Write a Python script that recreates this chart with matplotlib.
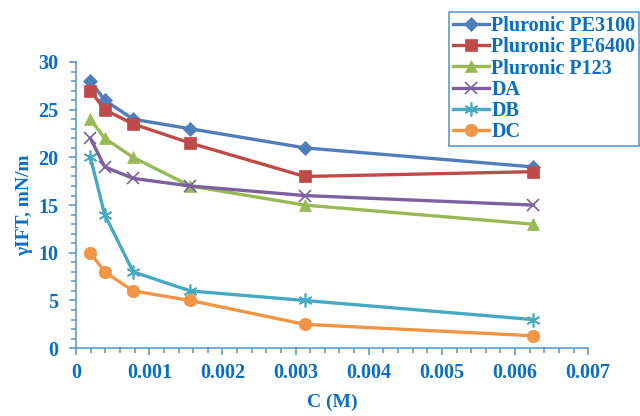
import matplotlib
matplotlib.use("Agg")
import matplotlib.pyplot as plt
from matplotlib.ticker import MultipleLocator

conc = [0.000195, 0.00039, 0.00078, 0.00156, 0.003125, 0.00625]
pe3100 = [28, 26, 24, 23, 21, 19]
pe6400 = [27, 25, 23.5, 21.5, 18, 18.5]
p123 = [24, 22, 20, 17, 15, 13]
da = [22, 19, 17.8, 17, 16, 15]
db = [20, 14, 8, 6, 5, 3]
dc = [10, 8, 6, 5, 2.5, 1.3]

labels = ["Pluronic PE3100", "Pluronic PE6400", "Pluronic P123", "DA", "DB", "DC"]
series = [pe3100, pe6400, p123, da, db, dc]
colors = ["#4F7EBB", "#BE4B48", "#98B954", "#7D60A0", "#46AAC5", "#F29544"]
markers = ["D", "s", "^", "x", (6, 2, 0), "o"]
msizes = [7, 9, 9, 9, 10, 9]

text_color = "#0A6EC2"
axis_color = "#5B9BD5"
plt.rcParams["font.family"] = ["Liberation Serif", "DejaVu Serif"]

fig = plt.figure(figsize=(6.4, 4.16), dpi=100)
ax = fig.add_axes([0.119, 0.163, 0.80, 0.688])

for y, lab, c, m, ms in zip(series, labels, colors, markers, msizes):
    ax.plot(conc, y, color=c, lw=2.4, marker=m, markersize=ms,
            markeredgewidth=1.2 if m in ("x", (6, 2, 0)) else 0.5,
            markeredgecolor=c, markerfacecolor=c, label=lab)

ax.set_xlim(0, 0.007)
ax.set_ylim(0, 30)
ax.xaxis.set_major_locator(MultipleLocator(0.001))
ax.xaxis.set_minor_locator(MultipleLocator(0.0002))
ax.yaxis.set_major_locator(MultipleLocator(5))
ax.yaxis.set_minor_locator(MultipleLocator(1))
ax.set_xticks([0, 0.001, 0.002, 0.003, 0.004, 0.005, 0.006, 0.007])
ax.set_xticklabels(["0", "0.001", "0.002", "0.003", "0.004", "0.005", "0.006", "0.007"])

for s in ("top", "right"):
    ax.spines[s].set_visible(False)
for s in ("left", "bottom"):
    ax.spines[s].set_color(axis_color)
    ax.spines[s].set_linewidth(1.2)
ax.tick_params(which="both", direction="out", color=axis_color, width=1.2,
               labelcolor=text_color, labelsize=14.5)
ax.tick_params(which="major", length=5)
ax.tick_params(which="minor", length=3.5)
ax.tick_params(axis="x", which="major", pad=6)
ax.tick_params(axis="y", which="major", pad=8)
for t in ax.get_xticklabels() + ax.get_yticklabels():
    t.set_fontweight("bold")

ax.set_xlabel("C (M)", fontsize=14, fontweight="bold", color=text_color)
ax.set_ylabel("γIFT, mN/m", fontsize=14, fontweight="bold", color=text_color)
ax.xaxis.set_label_coords(0.5, -0.16)
ax.yaxis.set_label_coords(-0.084, 0.5)

leg = ax.legend(loc="upper left", bbox_to_anchor=(0.7016, 0.971),
                bbox_transform=fig.transFigure, borderaxespad=0,
                fancybox=False, edgecolor=axis_color, framealpha=1,
                prop={"family": ["Liberation Serif"], "weight": "bold", "size": 14.5},
                handlelength=1.8, handletextpad=0.1, labelspacing=0.06,
                borderpad=0.2)
leg.get_frame().set_linewidth(1.2)
for t in leg.get_texts():
    t.set_color(text_color)

fig.savefig("out.png", dpi=100)
